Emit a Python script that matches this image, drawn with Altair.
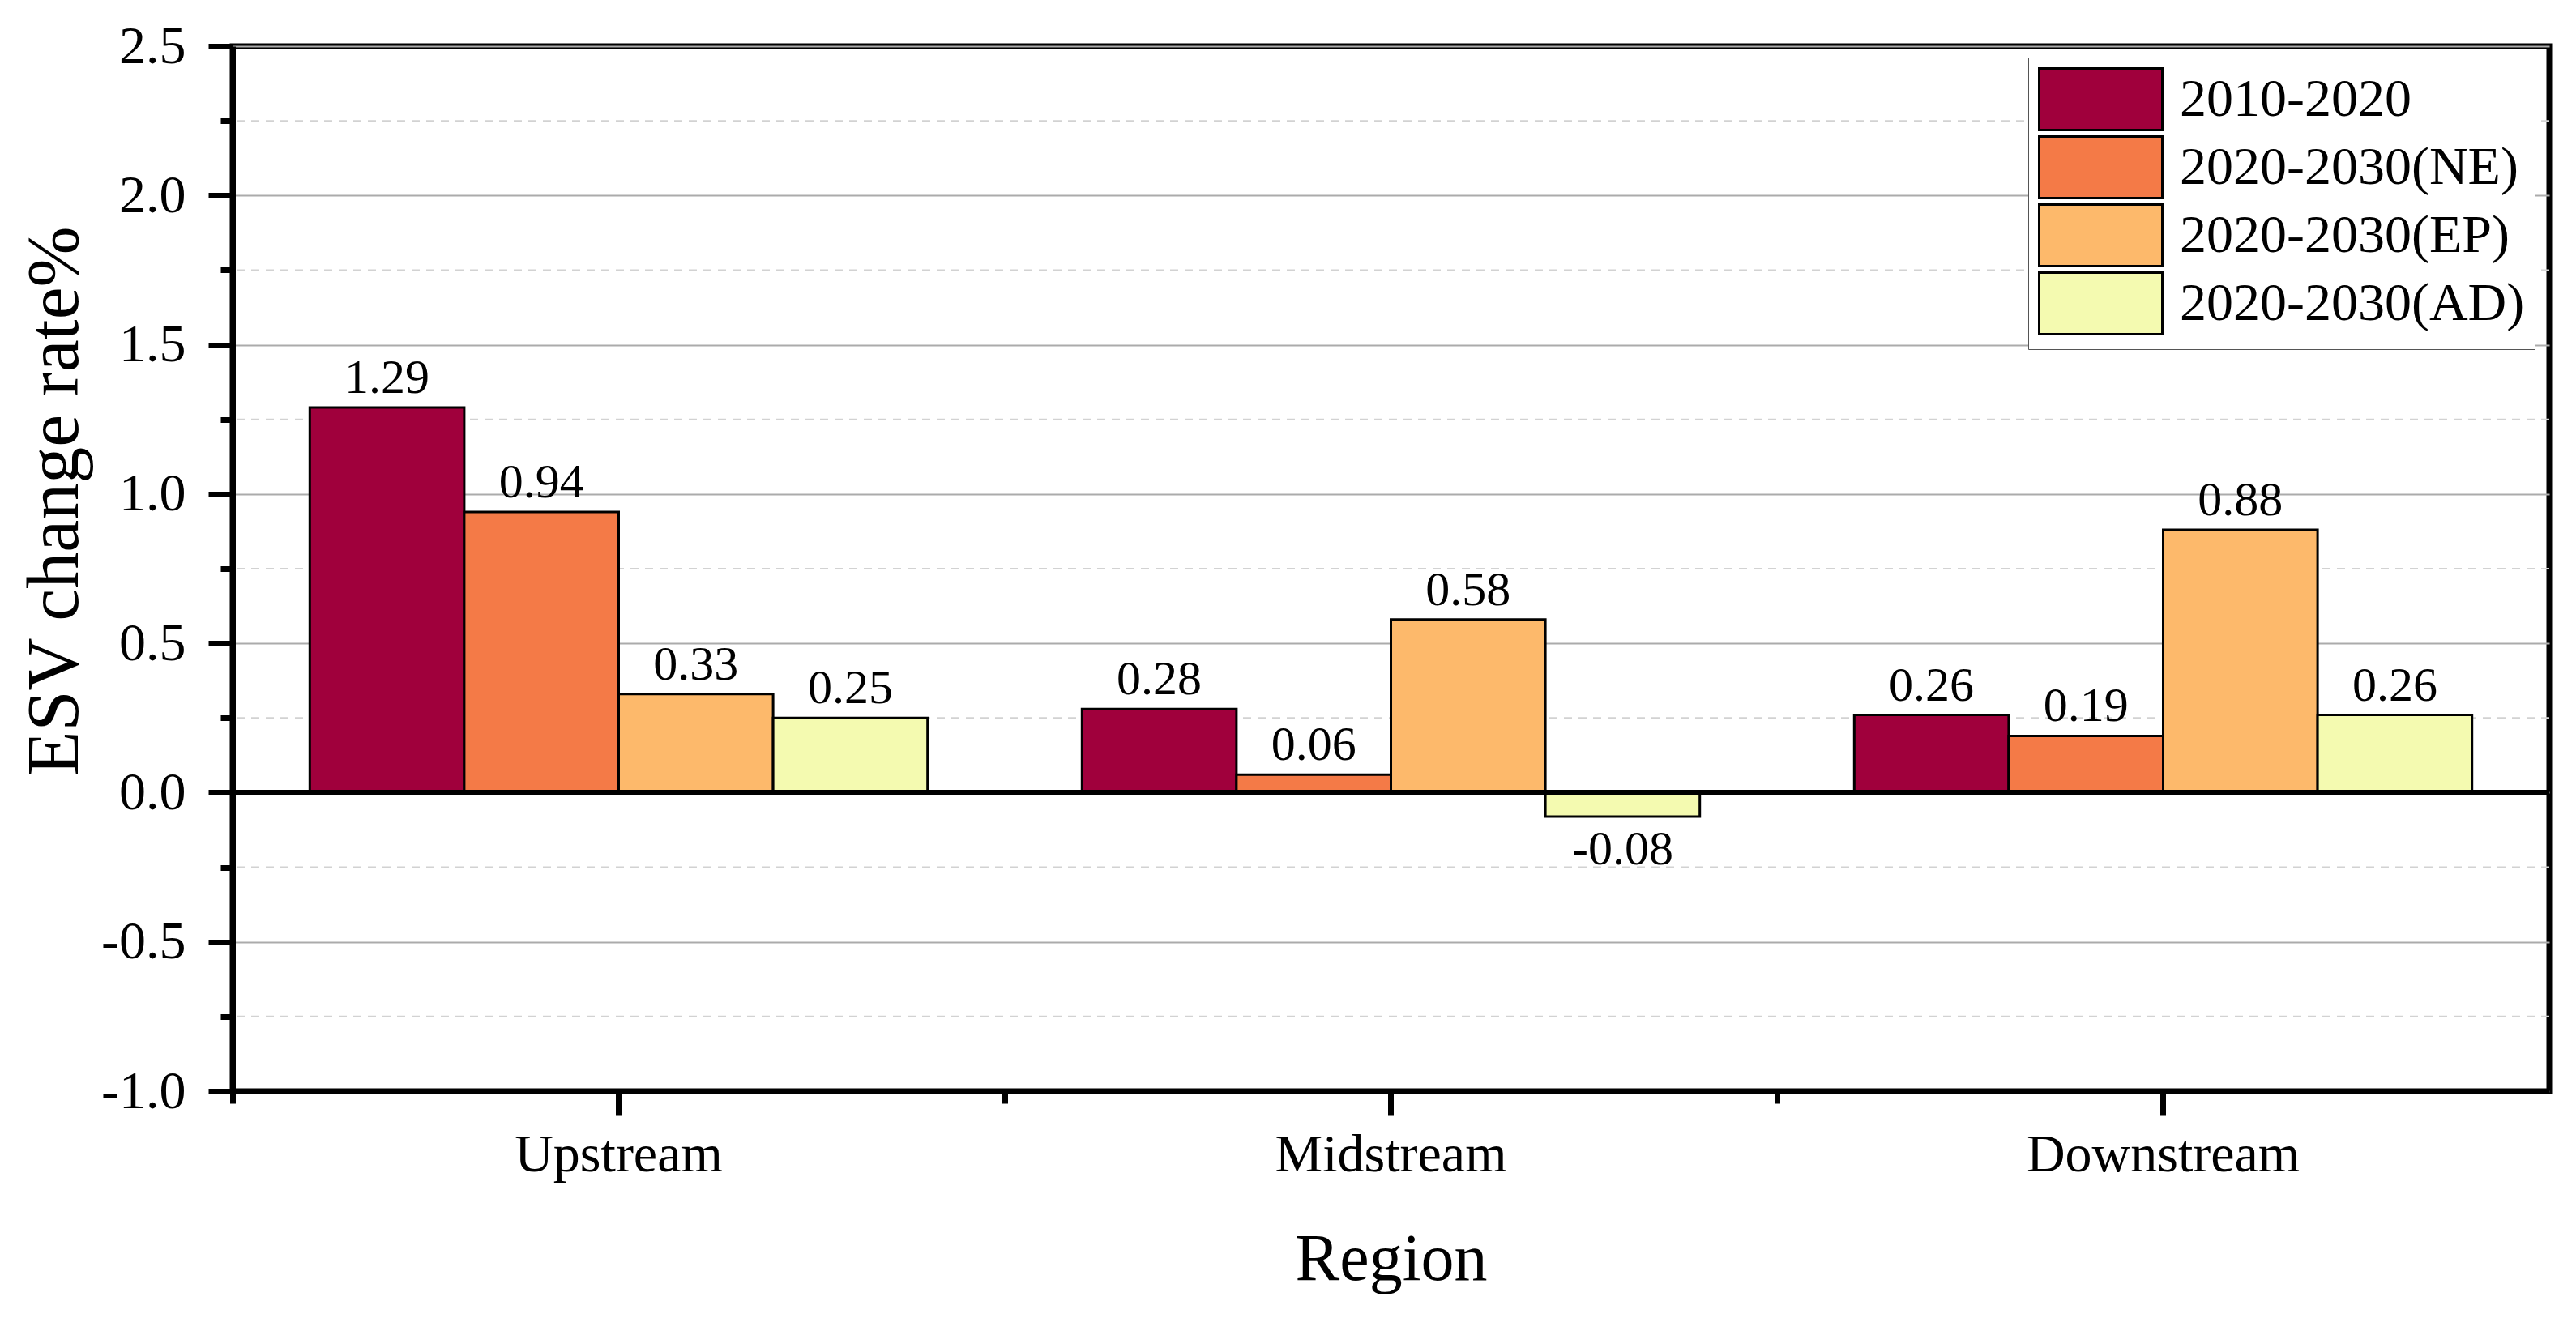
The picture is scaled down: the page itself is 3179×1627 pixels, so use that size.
import altair as alt
import pandas as pd

regions = ["Upstream", "Midstream", "Downstream"]
periods = ["2010-2020", "2020-2030(NE)", "2020-2030(EP)", "2020-2030(AD)"]
v_2010_2020 = [1.29, 0.28, 0.26]
v_ne = [0.94, 0.06, 0.19]
v_ep = [0.33, 0.58, 0.88]
v_ad = [0.25, -0.08, 0.26]
colors = ["#A0003C", "#F47A47", "#FDB96B", "#F4FAB0"]
y_major = [-1.0, -0.5, 0.0, 0.5, 1.0, 1.5, 2.0, 2.5]
y_minor = [-0.75, -0.25, 0.25, 0.75, 1.25, 1.75, 2.25]

rows = []
for p, vals in zip(periods, [v_2010_2020, v_ne, v_ep, v_ad]):
    for r, v in zip(regions, vals):
        rows.append({"Region": r, "Period": p, "value": v, "label": f"{v:.2f}"})
df = pd.DataFrame(rows)

FONT = "Liberation Serif"

yscale = alt.Scale(domain=[-1, 2.5], nice=False)
xscale = alt.Scale(domain=regions, paddingInner=0.2, paddingOuter=0.1)
offscale = alt.Scale(domain=periods, paddingInner=0, paddingOuter=0)

main_x_axis = alt.Axis(
    orient="bottom", labelAngle=0, tickSize=30, tickWidth=7, tickColor="black",
    domainColor="black", domainWidth=7, grid=False,
    labelFont=FONT, labelFontSize=66, labelColor="black", labelPadding=16,
    labelLimit=1000,
    title="Region", titleFont=FONT, titleFontSize=82, titleFontWeight="normal",
    titleColor="black", titlePadding=56,
)
main_y_axis = alt.Axis(
    orient="left", values=y_major,
    labelExpr="(datum.value < 0 ? '-' : '') + format(abs(datum.value), '.1f')",
    tickSize=30, tickWidth=7, tickColor="black",
    domainColor="black", domainWidth=7,
    grid=True, gridColor="#ababab", gridWidth=2,
    labelFont=FONT, labelFontSize=66, labelColor="black", labelPadding=28,
    title="ESV change rate%", titleFont=FONT, titleFontSize=90,
    titleFontWeight="normal", titleColor="black", titlePadding=10,
    titleY=561,
)
minor_x_axis = alt.Axis(
    orient="bottom", bandPosition=-0.125, tickSize=15, tickWidth=7,
    tickColor="black", labels=False, domain=False, grid=False, title=None,
)
minor_y_axis = alt.Axis(
    orient="left", values=y_minor, tickSize=15, tickWidth=7,
    tickColor="black", labels=False, domain=False, grid=False, title=None,
)

minor_grid = alt.Chart(pd.DataFrame({"m": y_minor})).mark_rule(
    color="#d2d2d2", strokeWidth=2, strokeDash=[10, 8]
).encode(y=alt.Y("m:Q", scale=yscale, axis=minor_y_axis))

bars = alt.Chart(df).mark_bar(stroke="black", strokeWidth=3).encode(
    x=alt.X("Region:N", sort=regions, scale=xscale, axis=main_x_axis),
    xOffset=alt.XOffset("Period:N", sort=periods, scale=offscale),
    y=alt.Y("value:Q", scale=yscale, axis=main_y_axis),
    color=alt.Color(
        "Period:N", sort=periods,
        scale=alt.Scale(domain=periods, range=colors),
        legend=alt.Legend(
            title=None, orient="none", legendX=2216, legendY=14,
            symbolType="M-1,-1H3V1H-1Z", symbolSize=5776,
            symbolStrokeColor="black", symbolStrokeWidth=3,
            labelFont=FONT, labelFontSize=66, labelColor="black",
            labelOffset=96, labelLimit=800, rowPadding=-5, padding=12,
            strokeColor="#555555", fillColor="white",
        ),
    ),
)

zero_rule = alt.Chart(pd.DataFrame({"z": [0.0]})).mark_rule(
    color="black", strokeWidth=7
).encode(y=alt.Y("z:Q", scale=yscale, axis=None))

pos_text = alt.Chart(df).transform_filter("datum.value >= 0").mark_text(
    baseline="alphabetic", dy=-18, font=FONT, fontSize=60, color="black"
).encode(
    x=alt.X("Region:N", sort=regions, scale=xscale, axis=minor_x_axis),
    xOffset=alt.XOffset("Period:N", sort=periods, scale=offscale),
    y=alt.Y("value:Q", scale=yscale, axis=None),
    text="label:N",
)
neg_text = alt.Chart(df).transform_filter("datum.value < 0").mark_text(
    baseline="top", dy=12, font=FONT, fontSize=60, color="black"
).encode(
    x=alt.X("Region:N", sort=regions, scale=xscale, axis=None),
    xOffset=alt.XOffset("Period:N", sort=periods, scale=offscale),
    y=alt.Y("value:Q", scale=yscale, axis=None),
    text="label:N",
)

chart = alt.layer(minor_grid, bars, zero_rule, pos_text, neg_text).resolve_axis(
    x="independent", y="independent"
).properties(
    width=2859, height=1290,
    padding={"left": 279, "top": 49, "right": 20, "bottom": 250},
    autosize=alt.AutoSizeParams(type="none"),
    background="white",
).configure_view(stroke="black", strokeWidth=7)

chart.save("out.html", embed_options={"renderer": "svg", "actions": False})
